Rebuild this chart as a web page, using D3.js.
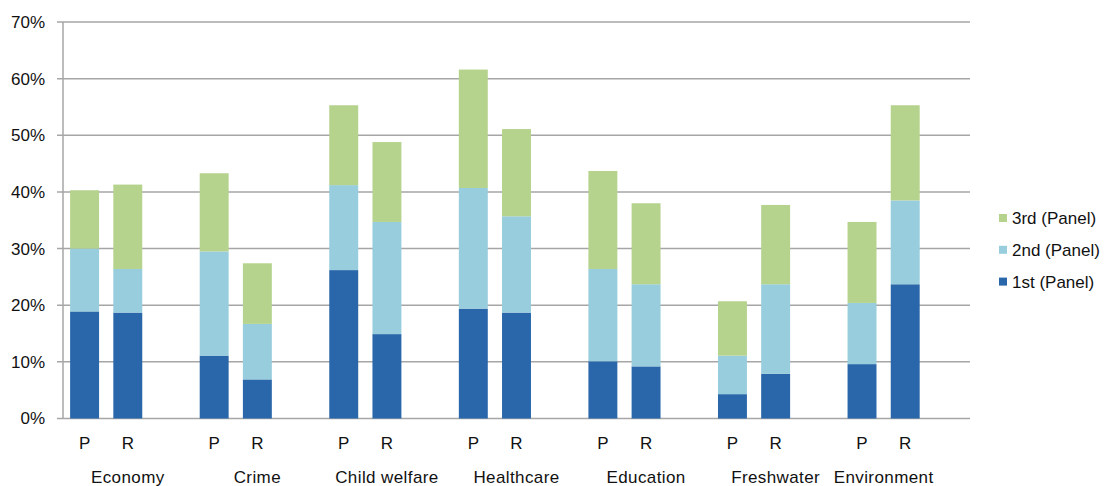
<!DOCTYPE html>
<html><head><meta charset="utf-8">
<script src="https://cdn.jsdelivr.net/npm/d3@7"></script>
<style>
body{margin:0;background:#fff;}
text{font-family:"Liberation Sans",Arial,sans-serif;fill:#111;}
</style></head>
<body>
<svg id="chart" width="1108" height="486"></svg>
<script>
const groups = ["Economy","Crime","Child welfare","Healthcare","Education","Freshwater","Environment"];
const subs = ["P","R"];
const seriesNames = ["1st (Panel)","2nd (Panel)","3rd (Panel)"];
const colors = ["#2a66aa","#97cddc","#b5d38c"];
// values in percent, order per group: P, R
const first  = [18.9,18.7, 11.1,6.9, 26.2,14.9, 19.4,18.7, 10.1,9.2, 4.3,7.9, 9.6,23.7];
const second = [11.1,7.7, 18.4,9.8, 15.0,19.8, 21.3,17.0, 16.3,14.5, 6.8,15.8, 10.8,14.8];
const third  = [10.3,14.9, 13.8,10.7, 14.1,14.1, 20.9,15.4, 17.3,14.3, 9.6,14.0, 14.3,16.8];
const yTicks = [0,10,20,30,40,50,60,70];

const svg = d3.select("#chart");
const mLeft = 63, mRight = 970, mTop = 22, mBottom = 418.5;

// slots: each group is P, R, gap — the last group spans only P, R, followed by an unlabelled gap
const slots = [];
const groupSlots = {};
groups.forEach((g,gi)=>{
  groupSlots[g] = subs.map(s=>g+"|"+s);
  if (gi < groups.length-1) groupSlots[g].push("gap"+gi);
  groupSlots[g].forEach(k=>slots.push(k));
});
slots.push("tail");
const x = d3.scaleBand().domain(slots).range([mLeft,mRight]).paddingInner(0.33).paddingOuter(0.165);
const y = d3.scaleLinear().domain([0,70]).range([mBottom,mTop]);

// gridlines
svg.append("g").selectAll("line").data(yTicks).join("line")
  .attr("x1",mLeft-6).attr("x2",mRight).attr("y1",d=>y(d)).attr("y2",d=>y(d))
  .attr("stroke","#a6a6a6").attr("stroke-width",1.5);
svg.append("line").attr("x1",mLeft).attr("x2",mLeft).attr("y1",mTop).attr("y2",mBottom)
  .attr("stroke","#a6a6a6").attr("stroke-width",1.5);
svg.append("g").selectAll("text").data(yTicks).join("text")
  .attr("x",45).attr("y",d=>y(d)).attr("dy","0.35em").attr("text-anchor","end")
  .attr("font-size",17).text(d=>d+"%");

// data rows
const rows = [];
groups.forEach((g,gi)=>subs.forEach((s,si)=>{
  const i = gi*2+si;
  rows.push({key:g+"|"+s, g, s, vals:[first[i],second[i],third[i]]});
}));
const stack = d3.stack().keys([0,1,2]).value((d,k)=>d.vals[k])(rows);

svg.append("g").selectAll("g").data(stack).join("g")
  .attr("fill",(d,i)=>colors[i])
  .selectAll("rect").data(d=>d).join("rect")
  .attr("x",d=>x(d.data.key)).attr("width",x.bandwidth())
  .attr("y",d=>y(d[1])).attr("height",d=>y(d[0])-y(d[1]));

// sub labels
svg.append("g").selectAll("text").data(rows).join("text")
  .attr("x",d=>x(d.key)+x.bandwidth()/2).attr("y",443).attr("dy","0.35em")
  .attr("text-anchor","middle").attr("font-size",17).text(d=>d.s);
// group labels centred on the group's span of slots
const groupCenter = g => {
  const ks = groupSlots[g];
  const a = x(ks[0]) + x.bandwidth()/2, b = x(ks[ks.length-1]) + x.bandwidth()/2;
  return (a+b)/2;
};
svg.append("g").selectAll("text").data(groups).join("text")
  .attr("x",groupCenter).attr("y",477).attr("dy","0.35em")
  .attr("text-anchor","middle").attr("font-size",17).attr("letter-spacing","0.4px").text(g=>g);

// legend (reverse order)
const legend = svg.append("g");
const legOrder = [2,1,0];
legOrder.forEach((si,i)=>{
  const cy = 218 + i*31.8;
  legend.append("rect").attr("x",999).attr("y",cy-4).attr("width",8).attr("height",8).attr("fill",colors[si]);
  legend.append("text").attr("x",1012).attr("y",cy).attr("dy","0.35em").attr("font-size",17).text(seriesNames[si]);
});
</script>
</body></html>
